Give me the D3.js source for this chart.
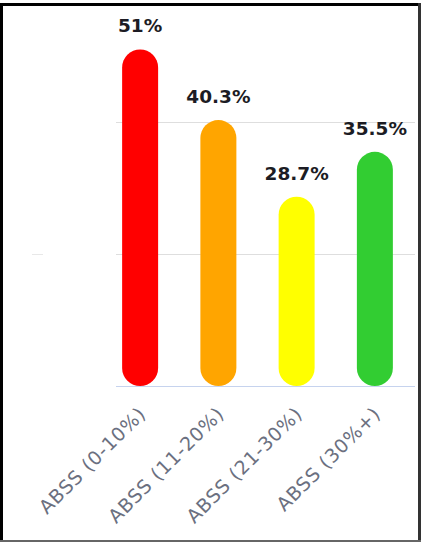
<!DOCTYPE html>
<html>
<head>
<meta charset="utf-8">
<script src="https://cdn.jsdelivr.net/npm/d3@7"></script>
<style>
  body { margin: 0; background: #fff; }
  svg { display: block; }
</style>
</head>
<body>
<div id="chart"></div>
<script>
// chart data
const categories = ["ABSS (0-10%)", "ABSS (11-20%)", "ABSS (21-30%)", "ABSS (30%+)"];
const values = [51, 40.3, 28.7, 35.5];
const labels = ["51%", "40.3%", "28.7%", "35.5%"];
const barColors = ["#ff0000", "#ffa500", "#ffff00", "#32cd32"];
const gridTicks = [20, 40];

const W = 421, H = 542;

const svg = d3.select("#chart")
  .append("svg")
  .attr("width", W)
  .attr("height", H);

// frame around the picture
svg.append("line").attr("x1", 1.5).attr("x2", 1.5).attr("y1", 3).attr("y2", H)
  .attr("stroke", "#000").attr("stroke-width", 3);
svg.append("line").attr("x1", 0).attr("x2", W).attr("y1", 4.5).attr("y2", 4.5)
  .attr("stroke", "#000").attr("stroke-width", 3);
svg.append("line").attr("x1", 419.5).attr("x2", 419.5).attr("y1", 3).attr("y2", H)
  .attr("stroke", "#333").attr("stroke-width", 3);
svg.append("line").attr("x1", 0).attr("x2", W).attr("y1", 541).attr("y2", 541)
  .attr("stroke", "#666").attr("stroke-width", 2);

// scales
const baseY = 386;
const y = d3.scaleLinear()
  .domain([0, 58.5])
  .range([baseY, 0]);

const x = d3.scaleBand()
  .domain(categories)
  .range([101, 414])
  .paddingInner(0.54)
  .paddingOuter(0.27);

// gridlines
svg.append("g")
  .selectAll("line")
  .data(gridTicks)
  .join("line")
  .attr("x1", 116)
  .attr("x2", 415)
  .attr("y1", (d) => Math.round(y(d)) + 0.5)
  .attr("y2", (d) => Math.round(y(d)) + 0.5)
  .attr("stroke", "#dedede")
  .attr("stroke-width", 1);

// faint leftover mark on the left of the middle gridline
svg.append("line")
  .attr("x1", 32).attr("x2", 43)
  .attr("y1", Math.round(y(20)) + 0.5).attr("y2", Math.round(y(20)) + 0.5)
  .attr("stroke", "#e8e8e8");

// baseline
svg.append("line")
  .attr("x1", 116)
  .attr("x2", 415)
  .attr("y1", baseY + 0.5)
  .attr("y2", baseY + 0.5)
  .attr("stroke", "#c6d3ee")
  .attr("stroke-width", 1);

// bars with fully rounded ends
const bw = x.bandwidth();
svg.append("g")
  .selectAll("rect")
  .data(values)
  .join("rect")
  .attr("x", (d, i) => x(categories[i]))
  .attr("y", (d) => y(d))
  .attr("width", bw)
  .attr("height", (d) => baseY - y(d))
  .attr("rx", bw / 2)
  .attr("ry", bw / 2)
  .attr("fill", (d, i) => barColors[i]);

// value labels
svg.append("g")
  .selectAll("text")
  .data(values)
  .join("text")
  .attr("x", (d, i) => x(categories[i]) + bw / 2)
  .attr("y", (d) => y(d) - 17)
  .attr("text-anchor", "middle")
  .attr("font-family", "'DejaVu Sans', Verdana, sans-serif")
  .attr("font-weight", "bold")
  .attr("font-size", "18.5px")
  .attr("fill", "#1c1c24")
  .text((d, i) => labels[i]);

// category labels, rotated
svg.append("g")
  .selectAll("text")
  .data(categories)
  .join("text")
  .attr("transform", (d) => `translate(${x(d) + bw / 2 + 7},${baseY + 29}) rotate(-45)`)
  .attr("text-anchor", "end")
  .attr("font-family", "'DejaVu Sans', Verdana, sans-serif")
  .attr("font-size", "19px")
  .attr("letter-spacing", "0.8px")
  .attr("fill", "#6b7080")
  .text((d) => d);
</script>
</body>
</html>
